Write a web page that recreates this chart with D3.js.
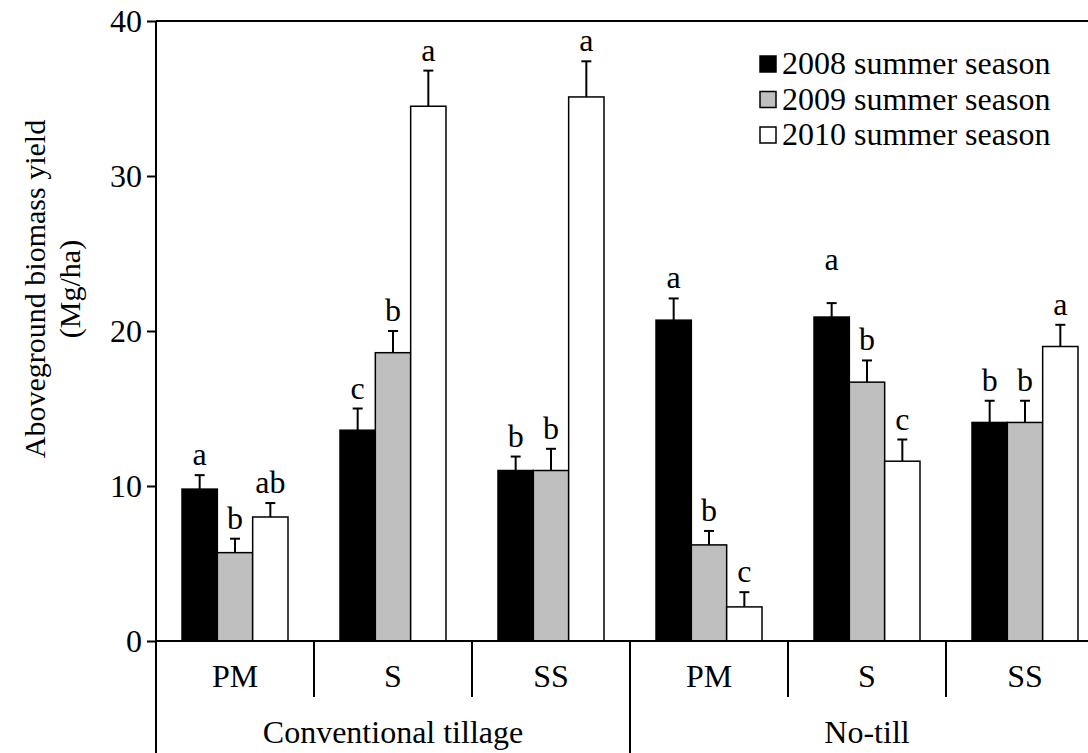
<!DOCTYPE html>
<html>
<head>
<meta charset="utf-8">
<script src="https://cdn.jsdelivr.net/npm/d3@7"></script>
<style>
  body { margin: 0; background: #fff; }
  svg { display: block; font-family: "Liberation Serif", "Times New Roman", serif; }
</style>
</head>
<body>
<svg width="1088" height="753"></svg>
<script>
var tillage = ["Conventional tillage", "No-till"];
var residue = ["PM", "S", "SS"];
var seasons = ["2008 summer season", "2009 summer season", "2010 summer season"];
var yTicks = [0, 10, 20, 30, 40];

// means per group, order: CT PM, CT S, CT SS, NT PM, NT S, NT SS
var yield2008 = [9.8, 13.6, 11.0, 20.7, 20.9, 14.1];
var yield2009 = [5.7, 18.6, 11.0, 6.2, 16.7, 14.1];
var yield2010 = [8.0, 34.5, 35.1, 2.2, 11.6, 19.0];
var err2008 = [0.9, 1.4, 0.9, 1.4, 0.9, 1.4];
var err2009 = [0.9, 1.4, 1.4, 0.9, 1.4, 1.4];
var err2010 = [0.9, 2.3, 2.3, 0.95, 1.4, 1.4];
var letters2008 = ["a", "c", "b", "a", "a", "b"];
var letters2009 = ["b", "b", "b", "b", "b", "b"];
var letters2010 = ["ab", "a", "a", "c", "c", "a"];

var fills = ["#000000", "#bfbfbf", "#ffffff"];

var svg = d3.select("svg"),
    plotLeft = 156, plotRight = 1104, plotTop = 21, plotBottom = 641;

var groups = [];
tillage.forEach(function(t) {
  residue.forEach(function(r) { groups.push(t + "|" + r); });
});

var x0 = d3.scaleBand().domain(groups).range([plotLeft, plotRight]);
var x1 = d3.scaleBand().domain([0, 1, 2]).range([x0.bandwidth() / 2 - 53, x0.bandwidth() / 2 + 53]);
var y = d3.scaleLinear().domain([0, 40]).range([plotBottom, plotTop]);

var means = [yield2008, yield2009, yield2010],
    errs = [err2008, err2009, err2010],
    letters = [letters2008, letters2009, letters2010];

var bars = [];
groups.forEach(function(g, gi) {
  for (var s = 0; s < 3; s++) {
    bars.push({g: g, s: s, v: means[s][gi], e: errs[s][gi], l: letters[s][gi]});
  }
});

// top frame line
svg.append("line")
    .attr("x1", plotLeft).attr("x2", plotRight)
    .attr("y1", plotTop).attr("y2", plotTop)
    .attr("stroke", "#000").attr("stroke-width", 2);

var node = svg.append("g").selectAll("g")
    .data(bars)
    .enter().append("g")
    .attr("transform", function(d) { return "translate(" + (x0(d.g) + x1(d.s)) + ",0)"; });

node.append("line")
    .attr("x1", x1.bandwidth() / 2).attr("x2", x1.bandwidth() / 2)
    .attr("y1", function(d) { return y(d.v); })
    .attr("y2", function(d) { return y(d.v + d.e); })
    .attr("stroke", "#000").attr("stroke-width", 2);

node.append("line")
    .attr("x1", x1.bandwidth() / 2 - 5).attr("x2", x1.bandwidth() / 2 + 5)
    .attr("y1", function(d) { return y(d.v + d.e); })
    .attr("y2", function(d) { return y(d.v + d.e); })
    .attr("stroke", "#000").attr("stroke-width", 2);

node.append("rect")
    .attr("x", 0)
    .attr("width", x1.bandwidth())
    .attr("y", function(d) { return y(d.v); })
    .attr("height", function(d) { return y(0) - y(d.v); })
    .attr("fill", function(d) { return fills[d.s]; })
    .attr("stroke", "#000").attr("stroke-width", 1.5);

node.append("text")
    .attr("x", x1.bandwidth() / 2)
    .attr("y", function(d) {
      // the NT S 2008 letter sits higher in the original
      var lift = (d.g == "No-till|S" && d.s == 0) ? 33 : 10;
      return y(d.v + d.e) - lift;
    })
    .attr("text-anchor", "middle")
    .attr("font-size", 32)
    .text(function(d) { return d.l; });

// y axis
var yAxis = svg.append("g")
    .attr("transform", "translate(" + plotLeft + ",0)")
    .call(d3.axisLeft(y).tickValues(yTicks).tickSize(9).tickPadding(5));
yAxis.select(".domain").attr("d", "M0," + plotTop + "V753").attr("stroke-width", 2);
yAxis.selectAll(".tick line").attr("stroke-width", 2);
yAxis.selectAll("text").attr("font-size", 32).attr("font-family", "Liberation Serif");

svg.append("text")
    .attr("transform", "translate(45,289) rotate(-90)")
    .attr("text-anchor", "middle")
    .attr("font-size", 30)
    .text("Aboveground biomass yield");
svg.append("text")
    .attr("transform", "translate(80,289) rotate(-90)")
    .attr("text-anchor", "middle")
    .attr("font-size", 30)
    .text("(Mg/ha)");

// x axis with two levels
svg.append("line")
    .attr("x1", plotLeft).attr("x2", plotRight)
    .attr("y1", plotBottom).attr("y2", plotBottom)
    .attr("stroke", "#000").attr("stroke-width", 2);

svg.append("g").selectAll("line")
    .data(groups.slice(1))
    .enter().append("line")
    .attr("x1", function(d) { return x0(d); })
    .attr("x2", function(d) { return x0(d); })
    .attr("y1", plotBottom)
    .attr("y2", function(d) { return d.split("|")[1] == residue[0] ? 753 : 697; })
    .attr("stroke", "#000").attr("stroke-width", 2);

svg.append("g").selectAll("text")
    .data(groups)
    .enter().append("text")
    .attr("x", function(d) { return x0(d) + x0.bandwidth() / 2; })
    .attr("y", 687)
    .attr("text-anchor", "middle")
    .attr("font-size", 32)
    .text(function(d) { return d.split("|")[1]; });

svg.append("g").selectAll("text")
    .data(tillage)
    .enter().append("text")
    .attr("x", function(d) {
      var gs = groups.filter(function(g) { return g.split("|")[0] == d; });
      return (x0(gs[0]) + x0(gs[gs.length - 1]) + x0.bandwidth()) / 2;
    })
    .attr("y", 743)
    .attr("text-anchor", "middle")
    .attr("font-size", 32)
    .text(function(d) { return d; });

// legend
var legend = svg.append("g").selectAll("g")
    .data(seasons)
    .enter().append("g")
    .attr("transform", function(d, i) { return "translate(760," + (74 + i * 35.5) + ")"; });

legend.append("rect")
    .attr("x", 0).attr("y", -18)
    .attr("width", 16).attr("height", 16)
    .attr("fill", function(d, i) { return fills[i]; })
    .attr("stroke", "#000").attr("stroke-width", 1.5);

legend.append("text")
    .attr("x", 22)
    .attr("font-size", 32)
    .text(function(d) { return d; });
</script>
</body>
</html>
